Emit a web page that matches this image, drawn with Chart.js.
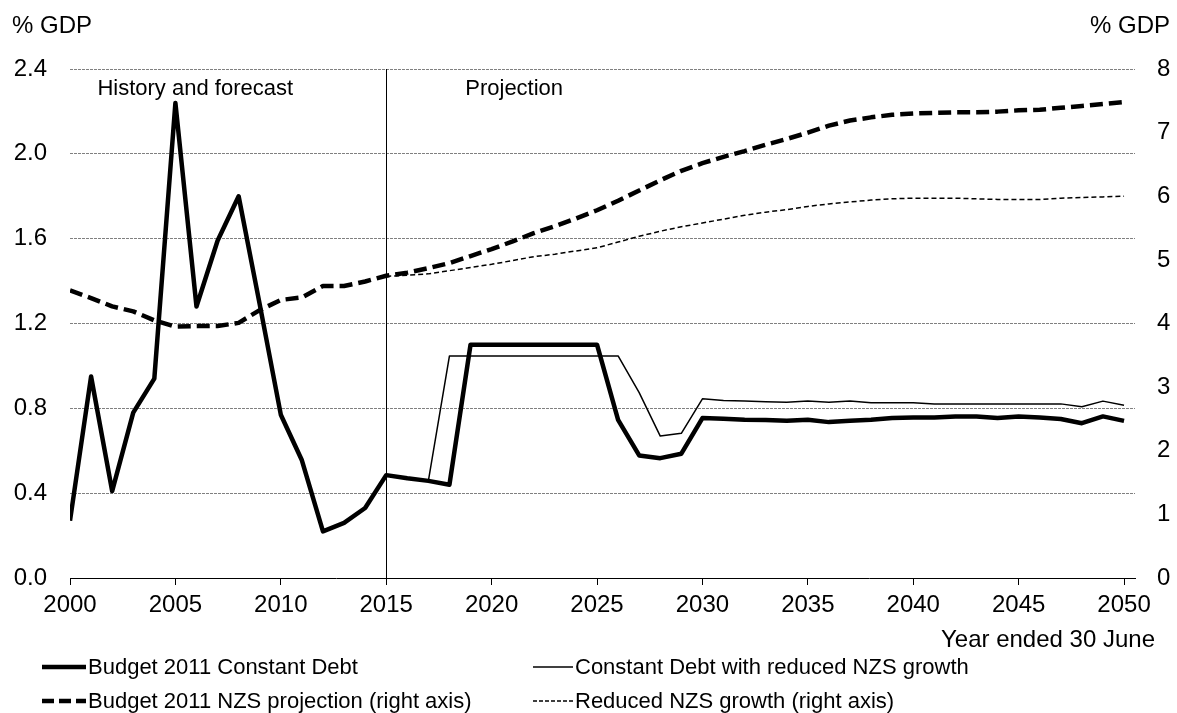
<!DOCTYPE html>
<html>
<head>
<meta charset="utf-8">
<script src="https://cdn.jsdelivr.net/npm/chart.js@4/dist/chart.umd.min.js"></script>
<style>
  body { margin: 0; background: #fff; }
  #wrap { position: relative; width: 1177px; height: 713px; font-family: "Liberation Sans", Arial, sans-serif; color: #000; }
  #chart { position: absolute; left: 0; top: 0; }
  .lbl { position: absolute; white-space: nowrap; }
  .axis { font-size: 24px; line-height: 24px; }
  .leg { font-size: 22px; line-height: 22px; }
  .sample { position: absolute; }
</style>
</head>
<body>
<div id="wrap">
  <canvas id="chart" width="1177" height="713"></canvas>
  <div class="lbl axis" style="left:12px; top:13px;">% GDP</div>
  <div class="lbl axis" style="right:7px; top:13px;">% GDP</div>
  <div class="lbl axis" style="right:22px; top:627px;">Year ended 30 June</div>

  <svg class="sample" style="left:42px; top:662px;" width="44" height="10"><line x1="0" y1="5" x2="44" y2="5" stroke="#000" stroke-width="4.5"/></svg>
  <div class="lbl leg" style="left:88px; top:656px;">Budget 2011 Constant Debt</div>
  <svg class="sample" style="left:533px; top:662px;" width="40" height="10"><line x1="0" y1="5" x2="40" y2="5" stroke="#000" stroke-width="1.5"/></svg>
  <div class="lbl leg" style="left:575px; top:656px;">Constant Debt with reduced NZS growth</div>

  <svg class="sample" style="left:42px; top:696px;" width="44" height="10"><line x1="0" y1="5" x2="44" y2="5" stroke="#000" stroke-width="4.5" stroke-dasharray="12 5"/></svg>
  <div class="lbl leg" style="left:88px; top:690px;">Budget 2011 NZS projection (right axis)</div>
  <svg class="sample" style="left:533px; top:696px;" width="40" height="10"><line x1="0" y1="5" x2="40" y2="5" stroke="#000" stroke-width="1.5" stroke-dasharray="4 2"/></svg>
  <div class="lbl leg" style="left:575px; top:690px;">Reduced NZS growth (right axis)</div>
</div>
<script>
// data
const years = [2000, 2001, 2002, 2003, 2004, 2005, 2006, 2007, 2008, 2009,
  2010, 2011, 2012, 2013, 2014, 2015, 2016, 2017, 2018, 2019,
  2020, 2021, 2022, 2023, 2024, 2025, 2026, 2027, 2028, 2029,
  2030, 2031, 2032, 2033, 2034, 2035, 2036, 2037, 2038, 2039,
  2040, 2041, 2042, 2043, 2044, 2045, 2046, 2047, 2048, 2049, 2050];

// left axis, % GDP
const constantDebt = [0.27, 0.95, 0.41, 0.78, 0.94, 2.24, 1.28, 1.59, 1.80, 1.29,
  0.77, 0.555, 0.22, 0.26, 0.33, 0.485, 0.47, 0.458, 0.44, 1.10,
  1.10, 1.10, 1.10, 1.10, 1.10, 1.10, 0.746, 0.578, 0.565, 0.586,
  0.754, 0.751, 0.746, 0.745, 0.741, 0.746, 0.735, 0.741, 0.746, 0.754,
  0.757, 0.757, 0.762, 0.762, 0.754, 0.762, 0.757, 0.75, 0.73, 0.762, 0.741];

const reducedDebt = [null, null, null, null, null, null, null, null, null, null,
  null, null, null, null, null, 0.485, 0.47, 0.458, 1.047, 1.047,
  1.047, 1.047, 1.047, 1.047, 1.047, 1.047, 1.047, 0.874, 0.669, 0.682,
  0.845, 0.837, 0.834, 0.831, 0.829, 0.834, 0.829, 0.834, 0.826, 0.826,
  0.826, 0.821, 0.821, 0.821, 0.821, 0.821, 0.821, 0.821, 0.807, 0.834, 0.815];

// right axis, % GDP
const nzsBudget = [4.52, 4.40, 4.27, 4.19, 4.05, 3.95, 3.96, 3.96, 4.01, 4.21,
  4.37, 4.41, 4.59, 4.59, 4.66, 4.75, 4.80, 4.87, 4.95, 5.06,
  5.17, 5.29, 5.42, 5.53, 5.65, 5.78, 5.93, 6.09, 6.25, 6.40,
  6.52, 6.62, 6.71, 6.81, 6.90, 7.00, 7.11, 7.19, 7.24, 7.28,
  7.30, 7.31, 7.32, 7.32, 7.33, 7.35, 7.36, 7.39, 7.42, 7.45, 7.48];

const nzsReduced = [null, null, null, null, null, null, null, null, null, null,
  null, null, null, null, null, 4.74, 4.76, 4.78, 4.83, 4.88,
  4.93, 4.99, 5.05, 5.09, 5.14, 5.19, 5.28, 5.37, 5.45, 5.52,
  5.58, 5.64, 5.70, 5.75, 5.79, 5.84, 5.88, 5.91, 5.94, 5.96,
  5.97, 5.97, 5.97, 5.96, 5.95, 5.95, 5.95, 5.97, 5.98, 5.99, 6.00];

const projectionStart = 2015;
const FONT = '"Liberation Sans", Arial, sans-serif';

const pts = arr => years.map((yr, i) => ({ x: yr, y: arr[i] }));

// divider line + period labels
const periods = {
  id: 'periods',
  afterDatasetsDraw(chart) {
    const { ctx, chartArea, scales } = chart;
    const x = Math.round(scales.x.getPixelForValue(projectionStart)) + 0.5;
    ctx.save();
    ctx.strokeStyle = '#000';
    ctx.lineWidth = 1;
    ctx.beginPath();
    ctx.moveTo(x, chartArea.top);
    ctx.lineTo(x, chartArea.bottom);
    ctx.stroke();
    ctx.fillStyle = '#000';
    ctx.font = '22px ' + FONT;
    ctx.textBaseline = 'alphabetic';
    ctx.fillText('History and forecast', scales.x.getPixelForValue(2001.3), 95);
    ctx.fillText('Projection', scales.x.getPixelForValue(2018.75), 95);
    ctx.restore();
  }
};

const ctx = document.getElementById('chart').getContext('2d');
const chart = new Chart(ctx, {
  type: 'line',
  data: {
    datasets: [
      { label: 'Budget 2011 Constant Debt', data: pts(constantDebt), yAxisID: 'y',
        borderColor: '#000', borderWidth: 4.5 },
      { label: 'Constant Debt with reduced NZS growth', data: pts(reducedDebt), yAxisID: 'y',
        borderColor: '#000', borderWidth: 1.5 },
      { label: 'Budget 2011 NZS projection (right axis)', data: pts(nzsBudget), yAxisID: 'y2',
        borderColor: '#000', borderWidth: 4.5, borderDash: [13, 6] },
      { label: 'Reduced NZS growth (right axis)', data: pts(nzsReduced), yAxisID: 'y2',
        borderColor: '#000', borderWidth: 1.5, borderDash: [5, 3] }
    ]
  },
  options: {
    responsive: false,
    animation: false,
    devicePixelRatio: 1,
    layout: { padding: { top: 69, left: 0, right: 0, bottom: 0 } },
    elements: { point: { radius: 0 }, line: { tension: 0, borderJoinStyle: 'round' } },
    plugins: { legend: { display: false }, tooltip: { enabled: false } },
    scales: {
      x: {
        type: 'linear',
        min: 2000,
        max: 2050.52,
        afterFit: s => { s.height = 135; },
        ticks: {
          stepSize: 5,
          includeBounds: false,
          color: '#000',
          padding: 6,
          maxRotation: 0,
          font: { size: 24, family: FONT },
          callback: v => String(v)
        },
        grid: { drawOnChartArea: false, drawTicks: true, tickLength: 7, tickColor: '#000' },
        border: { display: true, color: '#000', width: 1 }
      },
      y: {
        position: 'left',
        min: 0,
        max: 2.4,
        afterFit: s => { s.width = 70; },
        ticks: {
          stepSize: 0.4,
          color: '#000',
          padding: 23,
          font: { size: 24, family: FONT },
          callback: v => Number(v).toFixed(1)
        },
        grid: {
          drawTicks: false,
          lineWidth: 1,
          color: c => (c.tick && c.tick.value === 0 ? 'rgba(0,0,0,0)' : '#808080')
        },
        border: { display: false, dash: [3, 1] }
      },
      y2: {
        position: 'right',
        min: 0,
        max: 8,
        afterFit: s => { s.width = 42; },
        ticks: {
          stepSize: 1,
          color: '#000',
          padding: 22,
          font: { size: 24, family: FONT }
        },
        grid: { drawOnChartArea: false, drawTicks: false },
        border: { display: false }
      }
    }
  },
  plugins: [periods]
});
</script>
</body>
</html>
